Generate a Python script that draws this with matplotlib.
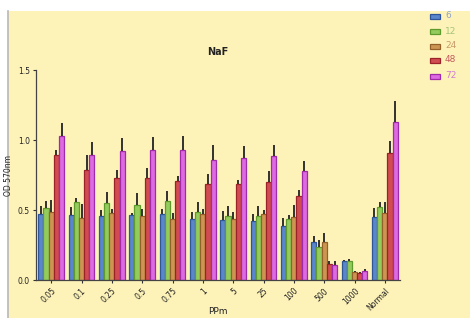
import matplotlib
matplotlib.use("Agg")
import matplotlib.pyplot as plt
from matplotlib.patches import Rectangle
from matplotlib.lines import Line2D
import numpy as np

categories = ["0.05", "0.1", "0.25", "0.5", "0.75", "1", "5", "25", "100", "500", "1000", "Normal"]
series_labels = ["6", "12", "24", "48", "72"]

vals_6  = [0.470, 0.463, 0.456, 0.465, 0.475, 0.437, 0.430, 0.420, 0.385, 0.268, 0.138, 0.449]
vals_12 = [0.517, 0.558, 0.548, 0.539, 0.563, 0.484, 0.458, 0.458, 0.434, 0.233, 0.138, 0.520]
vals_24 = [0.487, 0.446, 0.482, 0.456, 0.439, 0.475, 0.439, 0.468, 0.453, 0.268, 0.059, 0.477]
vals_48 = [0.895, 0.783, 0.726, 0.726, 0.705, 0.688, 0.686, 0.698, 0.600, 0.114, 0.052, 0.904]
vals_72 = [1.028, 0.892, 0.921, 0.926, 0.926, 0.854, 0.869, 0.885, 0.776, 0.107, 0.062, 1.132]

err_6  = [0.057, 0.059, 0.042, 0.014, 0.033, 0.050, 0.064, 0.050, 0.056, 0.043, 0.004, 0.068]
err_12 = [0.048, 0.031, 0.083, 0.083, 0.073, 0.076, 0.074, 0.069, 0.029, 0.054, 0.014, 0.035]
err_24 = [0.087, 0.098, 0.024, 0.052, 0.038, 0.031, 0.045, 0.033, 0.083, 0.067, 0.007, 0.078]
err_48 = [0.033, 0.107, 0.062, 0.071, 0.040, 0.067, 0.026, 0.078, 0.043, 0.024, 0.007, 0.088]
err_72 = [0.092, 0.091, 0.095, 0.097, 0.102, 0.112, 0.088, 0.081, 0.074, 0.031, 0.014, 0.147]

all_vals = [vals_6, vals_12, vals_24, vals_48, vals_72]
all_errs = [err_6, err_12, err_24, err_48, err_72]

face_colors = ["#5a86cc", "#93cc5c", "#cc9652", "#d04c50", "#dc6ae0"]
edge_colors = ["#2f5599", "#5e9a2c", "#95612a", "#9a2228", "#a02aa8"]
text_colors = ["#8fa2c8", "#a6c47a", "#c89a68", "#c65a5e", "#cf7fd0"]

W, H = 470, 318
fig = plt.figure(figsize=(W / 100, H / 100), dpi=100)
fig.patch.set_facecolor("white")
fig.patches.append(Rectangle((8 / W, 0), 1 - 8 / W, 1 - 11 / H, transform=fig.transFigure,
                             facecolor="#fdf3b9", edgecolor="none", zorder=-10))
fig.lines.append(Line2D([8 / W, 8 / W], [0, 1 - 11 / H], transform=fig.transFigure,
                        color="#b8b8b8", lw=1.2, zorder=-5))

ax = fig.add_axes([36 / W, 1 - 280 / H, 364 / W, 210 / H])
ax.set_facecolor("none")

x = np.arange(len(categories))
bw = 0.171
for i, (v, e) in enumerate(zip(all_vals, all_errs)):
    pos = x + (i - 2) * bw
    ax.bar(pos, v, width=bw, color=face_colors[i], edgecolor=edge_colors[i], linewidth=0.9, zorder=2)
    ax.vlines(pos, v, np.array(v) + np.array(e), color="#222222", lw=1.3, zorder=3)

ax.set_xlim(-0.5, 11.5)
ax.set_ylim(0, 1.5)
ax.set_yticks([0.0, 0.5, 1.0, 1.5])
ax.set_yticklabels(["0.0", "0.5", "1.0", "1.5"])
ax.set_xticks(x)
ax.set_xticklabels(categories, rotation=45, ha="right", rotation_mode="anchor")
ax.tick_params(axis="both", labelsize=5.5, length=2, width=0.8, color="#333333", pad=2.5, labelcolor="#222222")
for s in ["top", "right"]:
    ax.spines[s].set_visible(False)
for s in ["left", "bottom"]:
    ax.spines[s].set_color("#444444")
    ax.spines[s].set_linewidth(0.9)

ax.set_title("NaF", fontsize=7, fontweight="bold", pad=11, color="#222222")
ax.set_ylabel("OD 570nm", fontsize=5.5, color="#222222", labelpad=3)
fig.text(218 / W, 1 - 311 / H, "PPm", fontsize=6.5, color="#222222", ha="center", va="center")

leg_y = [16, 31, 46, 60, 76]
for i, lab in enumerate(series_labels):
    yy = 1 - leg_y[i] / H
    fig.patches.append(Rectangle((430 / W, yy - 2.5 / H), 10 / W, 5 / H, transform=fig.transFigure,
                                 facecolor=face_colors[i], edgecolor=edge_colors[i], lw=0.9))
    fig.text(445 / W, yy, lab, fontsize=6.5, color=text_colors[i], va="center", ha="left")

fig.savefig("out.png", dpi=100)
